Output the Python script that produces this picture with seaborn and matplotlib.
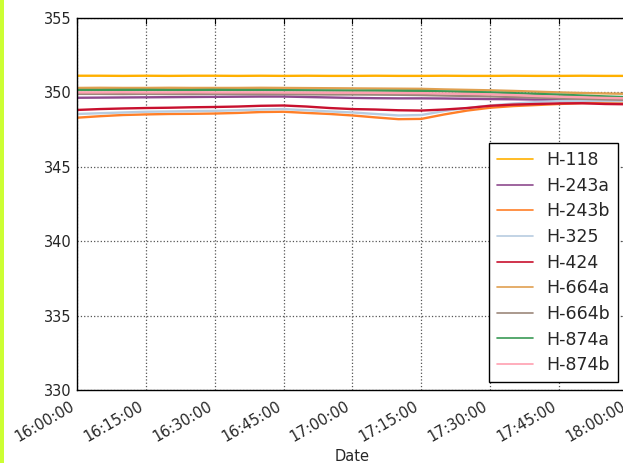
import numpy as np
import pandas as pd
import matplotlib
matplotlib.use("Agg")
import matplotlib.pyplot as plt
import matplotlib.dates as mdates
from matplotlib.patches import Rectangle
import seaborn as sns

# Sample times, every five minutes from 16:00 to 18:00
minutes = [0, 5, 10, 15, 20, 25, 30, 35, 40, 45, 50, 55, 60,
           65, 70, 75, 80, 85, 90, 95, 100, 105, 110, 115, 120]

h118 = [351.12, 351.12, 351.11, 351.12, 351.11, 351.12, 351.12, 351.11, 351.12,
        351.11, 351.12, 351.11, 351.11, 351.12, 351.11, 351.11, 351.12, 351.11,
        351.11, 351.12, 351.11, 351.11, 351.12, 351.11, 351.11]
h243a = [349.64, 349.65, 349.66, 349.67, 349.68, 349.69, 349.70, 349.71, 349.72,
         349.72, 349.69, 349.66, 349.63, 349.61, 349.60, 349.60, 349.59, 349.57,
         349.55, 349.54, 349.52, 349.50, 349.47, 349.44, 349.42]
h243b = [348.30, 348.40, 348.48, 348.52, 348.55, 348.56, 348.58, 348.62, 348.68,
         348.70, 348.62, 348.55, 348.45, 348.32, 348.20, 348.22, 348.52, 348.78,
         348.97, 349.08, 349.15, 349.22, 349.28, 349.30, 349.30]
h325 = [348.55, 348.60, 348.65, 348.70, 348.72, 348.74, 348.76, 348.80, 348.85,
        348.88, 348.80, 348.72, 348.65, 348.55, 348.45, 348.48, 348.75, 348.95,
        349.12, 349.25, 349.35, 349.42, 349.45, 349.42, 349.40]
h424 = [348.82, 348.88, 348.92, 348.95, 348.97, 349.00, 349.02, 349.05, 349.10,
        349.12, 349.05, 348.95, 348.88, 348.85, 348.80, 348.78, 348.85, 348.95,
        349.10, 349.18, 349.22, 349.26, 349.27, 349.22, 349.20]
h664a = [350.30, 350.31, 350.30, 350.30, 350.31, 350.30, 350.30, 350.30, 350.31,
         350.30, 350.29, 350.28, 350.27, 350.26, 350.25, 350.24, 350.20, 350.17,
         350.14, 350.10, 350.05, 350.00, 349.96, 349.93, 349.90]
h664b = [349.90, 349.90, 349.89, 349.90, 349.89, 349.89, 349.90, 349.89, 349.88,
         349.88, 349.87, 349.86, 349.86, 349.85, 349.84, 349.82, 349.79, 349.76,
         349.73, 349.69, 349.65, 349.61, 349.57, 349.53, 349.50]
h874a = [350.16, 350.16, 350.17, 350.17, 350.16, 350.16, 350.17, 350.16, 350.16,
         350.15, 350.14, 350.13, 350.12, 350.12, 350.11, 350.10, 350.07, 350.03,
         350.00, 349.95, 349.90, 349.85, 349.79, 349.73, 349.68]
h874b = [350.00, 350.00, 350.01, 350.00, 350.00, 350.01, 350.00, 350.00, 350.00,
         349.99, 349.99, 349.98, 349.98, 349.97, 349.96, 349.95, 349.93, 349.90,
         349.87, 349.82, 349.76, 349.71, 349.67, 349.63, 349.60]

sensors = ["H-118", "H-243a", "H-243b", "H-325", "H-424",
           "H-664a", "H-664b", "H-874a", "H-874b"]
series = [h118, h243a, h243b, h325, h424, h664a, h664b, h874a, h874b]
colors = ["#ffb000", "#8e4a8e", "#ff7f27", "#b8cce0", "#c8102e",
          "#e0a050", "#9c877a", "#3a9a55", "#ffa0b0"]

start = pd.Timestamp("2016-01-01 16:00:00")
times = [start + pd.Timedelta(minutes=m) for m in minutes]
frames = [pd.DataFrame({"Date": times, "Value": vals, "Sensor": name})
          for name, vals in zip(sensors, series)]
df = pd.concat(frames, ignore_index=True)

sns.set_style("white")
plt.rcParams["font.family"] = ["DejaVu Sans"]

W, H = 623, 463
fig = plt.figure(figsize=(W / 100, H / 100), dpi=100)
fig.patch.set_facecolor("white")
ax = fig.add_axes([77 / W, (H - 390) / H, 551 / W, 372 / H])

sns.lineplot(data=df, x="Date", y="Value", hue="Sensor", hue_order=sensors,
             palette=dict(zip(sensors, colors)), linewidth=1.7, ax=ax)

ax.set_xlim(start, start + pd.Timedelta(minutes=120))
ax.set_ylim(330, 355)
ax.set_yticks([330, 335, 340, 345, 350, 355])
ax.xaxis.set_major_locator(mdates.MinuteLocator(byminute=[0, 15, 30, 45]))
ax.xaxis.set_major_formatter(mdates.DateFormatter("%H:%M:%S"))
ax.set_xlabel("Date", fontsize=10.5, labelpad=3)
ax.set_ylabel("")
ax.tick_params(axis="both", direction="in", length=4, top=True, right=True,
               labelsize=10.5, color="black")
ax.tick_params(axis="x", pad=6)
ax.tick_params(axis="y", pad=4)
for lab in ax.get_xticklabels():
    lab.set_rotation(30)
    lab.set_ha("right")
ax.grid(True, color="#555555", linestyle=":", linewidth=0.9)
for sp in ax.spines.values():
    sp.set_color("black")
    sp.set_linewidth(1.0)

leg = ax.legend(loc="lower right", bbox_to_anchor=(618 / W, (H - 382) / H),
                bbox_transform=fig.transFigure, borderaxespad=0, fontsize=12.5,
                frameon=True, fancybox=False, framealpha=1, handlelength=2.1,
                handletextpad=0.75, labelspacing=0.44, borderpad=0.45)
leg.get_frame().set_edgecolor("black")
leg.get_frame().set_linewidth(1.0)
for line in leg.get_lines():
    line.set_linewidth(1.2)

fig.patches.append(Rectangle((0, 0), 4 / W, 1, transform=fig.transFigure,
                             facecolor="#ccff33", edgecolor="none"))

fig.savefig("out.png", dpi=100)
